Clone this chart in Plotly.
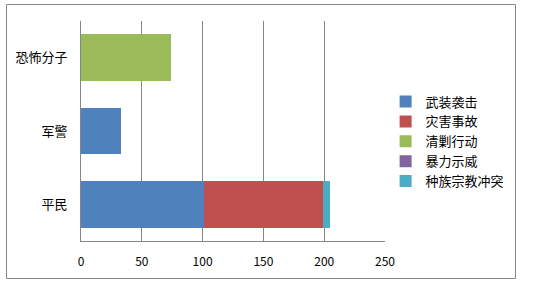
import plotly.graph_objects as go

categories = ["平民", "军警", "恐怖分子"]
series_names = ["武装袭击", "灾害事故", "清剿行动", "暴力示威", "种族宗教冲突"]
armed_attack = [101, 33, 0]
disaster = [98, 0, 0]
suppression = [0, 0, 74]
violent_protest = [0, 0, 0]
ethnic_conflict = [6, 0, 0]
x_ticks = [0, 50, 100, 150, 200, 250]

values = [armed_attack, disaster, suppression, violent_protest, ethnic_conflict]
colors = ["#4F81BD", "#C0504D", "#9BBB59", "#8064A2", "#4BACC6"]

FONT = "Noto Sans CJK SC, Microsoft YaHei, sans-serif"

fig = go.Figure()
for name, vals, col in zip(series_names, values, colors):
    fig.add_trace(go.Bar(
        y=categories, x=vals, name=name, orientation="h",
        legendgroup=name,
        marker=dict(color=col, line=dict(width=0)),
    ))

fig.update_layout(
    width=559, height=290,
    barmode="stack", bargap=0.36,
    plot_bgcolor="white", paper_bgcolor="white",
    margin=dict(l=81, r=174, t=21, b=49),
    font=dict(family=FONT, size=13, color="black"),
    legend=dict(
        x=1.002, xanchor="left", y=0.452, yanchor="middle",
        traceorder="normal", font=dict(size=13),
        itemwidth=30, tracegroupgap=6, bgcolor="rgba(0,0,0,0)",
    ),
    xaxis=dict(
        range=[0, 250], tickvals=x_ticks, showgrid=True,
        gridcolor="#868686", gridwidth=1, zeroline=False,
        showline=True, linecolor="#868686", linewidth=1,
        ticks="", tickfont=dict(size=12, color="black"),
        ticklabelstandoff=10,
    ),
    yaxis=dict(
        showgrid=False, zeroline=False, showline=True,
        linecolor="#868686", linewidth=1, ticks="",
        tickfont=dict(size=13, color="black"),
        ticklabelstandoff=10,
    ),
    shapes=[dict(
        type="rect", xref="paper", yref="paper",
        x0=(6.5 - 81) / 304, x1=(515.5 - 81) / 304,
        y0=(241 - 278.5) / 220, y1=(241 - 4.5) / 220,
        line=dict(color="#868686", width=1), fillcolor="rgba(0,0,0,0)",
        layer="below",
    )],
)

fig.write_html("out.html")
